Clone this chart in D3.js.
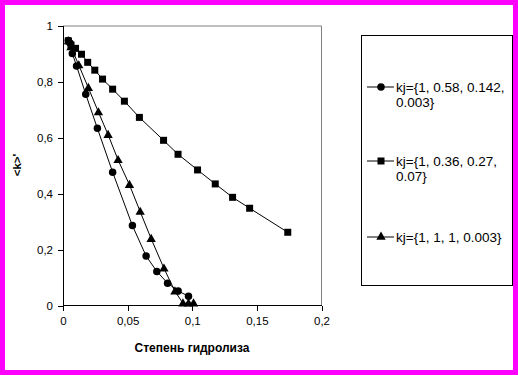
<!DOCTYPE html>
<html><head><meta charset="utf-8">
<script src="https://cdn.jsdelivr.net/npm/d3@7"></script>
<style>
html,body{margin:0;padding:0;background:#fff;}
svg{display:block;font-family:"Liberation Sans",Arial,sans-serif;}
</style></head>
<body>
<script>
// ---- data ----
const xTicks = [0, 0.05, 0.1, 0.15, 0.2];
const yTicks = [0, 0.2, 0.4, 0.6, 0.8, 1];
const seriesNames = ["kj={1, 0.58, 0.142, 0.003}", "kj={1, 0.36, 0.27, 0.07}", "kj={1, 1, 1, 0.003}"];
const legendLines = [["kj={1, 0.58, 0.142,", "0.003}"], ["kj={1, 0.36, 0.27,", "0.07}"], ["kj={1, 1, 1, 0.003}"]];
const seriesShapes = ["circle", "square", "triangle"];
const circX = [0.0041, 0.0054, 0.0072, 0.0105, 0.0176, 0.0266, 0.0384, 0.0537, 0.0643, 0.0726, 0.0809, 0.0891, 0.0971];
const circY = [0.948, 0.939, 0.902, 0.857, 0.756, 0.634, 0.477, 0.286, 0.177, 0.122, 0.080, 0.052, 0.033];
const sqX = [0.0041, 0.0062, 0.0097, 0.0143, 0.0191, 0.0246, 0.0306, 0.0384, 0.0475, 0.0591, 0.0778, 0.0890, 0.1041, 0.1178, 0.1312, 0.1444, 0.1739];
const sqY = [0.947, 0.932, 0.920, 0.899, 0.870, 0.842, 0.810, 0.774, 0.731, 0.673, 0.591, 0.541, 0.485, 0.435, 0.387, 0.348, 0.262];
const triX = [0.0043, 0.0062, 0.0122, 0.0196, 0.0274, 0.0349, 0.0426, 0.0514, 0.0597, 0.0682, 0.0781, 0.0866, 0.0928, 0.0971, 0.1010];
const triY = [0.946, 0.925, 0.860, 0.779, 0.692, 0.611, 0.521, 0.432, 0.336, 0.239, 0.133, 0.051, 0.008, 0.008, 0.008];
const xTitle = "Степень гидролиза";
const yTitle = "<k>'";

const W = 518, H = 375;
const svg = d3.select("body").append("svg").attr("width", W).attr("height", H);
svg.append("rect").attr("x", 2.5).attr("y", 2.5).attr("width", W - 5).attr("height", H - 5)
  .attr("fill", "#fff").attr("stroke", "#ff00ff").attr("stroke-width", 5);

const x = d3.scaleLinear().domain([0, 0.2]).range([63, 321.5]);
const y = d3.scaleLinear().domain([0, 1]).range([305.5, 26]);
const fmt = d => String(d).replace(".", ",");

// plot frame (gray top/right)
svg.append("path").attr("d", `M${x(0)},${y(1)}H${x(0.2)}V${y(0)}`)
  .attr("fill", "none").attr("stroke", "#808080").attr("stroke-width", 1);

const gx = svg.append("g").attr("transform", `translate(0,${y(0)})`)
  .call(d3.axisBottom(x).tickValues(xTicks).tickFormat(fmt).tickSize(5).tickPadding(6));
const gy = svg.append("g").attr("transform", `translate(${x(0)},0)`)
  .call(d3.axisLeft(y).tickValues(yTicks).tickFormat(fmt).tickSize(5).tickPadding(5));
[gx, gy].forEach(g => {
  g.selectAll("path,line").attr("stroke", "#000").attr("shape-rendering", "crispEdges");
  g.selectAll("text").attr("font-size", 11.5).attr("fill", "#000")
    .attr("font-family", "Liberation Sans, Arial, sans-serif");
});
gx.select(".domain").attr("d", `M${x(0)},0H${x(0.2)}`);
gy.select(".domain").attr("d", `M0,${y(0)}V${y(1)}`);

svg.append("text").attr("x", 192).attr("y", 352).attr("text-anchor", "middle")
  .attr("font-size", 12).attr("font-weight", "bold").text(xTitle);
svg.append("text").attr("transform", "translate(21,165) rotate(-90)").attr("text-anchor", "middle")
  .attr("font-size", 11.5).attr("font-weight", "bold").text(yTitle);

const sym = {
  circle: d3.symbol().type(d3.symbolCircle).size(44),
  square: d3.symbol().type(d3.symbolSquare).size(49),
  triangle: d3.symbol().type(d3.symbolTriangle).size(38)
};
const data = [
  circX.map((v, i) => [v, circY[i]]),
  sqX.map((v, i) => [v, sqY[i]]),
  triX.map((v, i) => [v, triY[i]])
];
const line = d3.line().x(d => x(d[0])).y(d => y(d[1]));
data.forEach((pts, si) => {
  const g = svg.append("g");
  g.append("path").attr("d", line(pts)).attr("fill", "none").attr("stroke", "#000").attr("stroke-width", 1);
  g.selectAll("path.m").data(pts).join("path").attr("class", "m")
    .attr("d", sym[seriesShapes[si]])
    .attr("transform", d => `translate(${x(d[0])},${y(d[1]) + (seriesShapes[si] === "triangle" ? 0.5 : 0)})`)
    .attr("fill", "#000");
});

// legend
svg.append("rect").attr("x", 361.5).attr("y", 35.5).attr("width", 151).attr("height", 250)
  .attr("fill", "#fff").attr("stroke", "#000").attr("stroke-width", 1);
const legY = [87, 161, 237];
legendLines.forEach((ls, i) => {
  const g = svg.append("g").attr("transform", `translate(0,${legY[i]})`);
  g.append("line").attr("x1", 367).attr("x2", 394).attr("y1", 0).attr("y2", 0).attr("stroke", "#000");
  g.append("path").attr("d", sym[seriesShapes[i]]).attr("transform", "translate(381,0)").attr("fill", "#000");
  ls.forEach((t, j) => {
    g.append("text").attr("x", 396).attr("y", 5 + j * 15).attr("font-size", 13.5).text(t);
  });
});
</script>
</body></html>
